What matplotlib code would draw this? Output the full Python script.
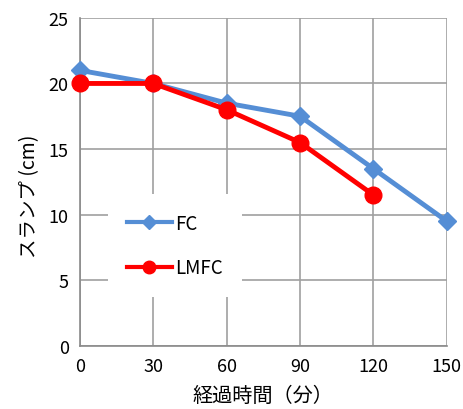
import matplotlib
matplotlib.use('Agg')
import matplotlib.pyplot as plt

plt.rcParams['font.family'] = ['Noto Sans CJK JP', 'DejaVu Sans']

# data
minutes = [0, 30, 60, 90, 120, 150]
fc = [21, 20, 18.5, 17.5, 13.5, 9.5]
lmfc_minutes = [0, 30, 60, 90, 120]
lmfc = [20, 20, 18, 15.5, 11.5]

fig = plt.figure(figsize=(4.64, 4.10), dpi=100)
ax = fig.add_axes([0.172, 0.154, 0.791, 0.8])

ax.plot(minutes, fc, color='#558ED5', linewidth=3.5, marker='D',
        markersize=9, label='FC', zorder=3, clip_on=False)
ax.plot(lmfc_minutes, lmfc, color='#FF0000', linewidth=3.5, marker='o',
        markersize=12, label='LMFC', zorder=4, clip_on=False)

ax.set_xlim(0, 150)
ax.set_ylim(0, 25)
ax.set_xticks(minutes)
ax.set_yticks(range(0, 26, 5))
ax.tick_params(axis='both', length=0, labelsize=13, pad=8)
ax.grid(True, color='#a0a0a0', linewidth=1.2)
ax.set_axisbelow(True)
for s in ['top', 'right']:
    ax.spines[s].set_visible(False)
for s in ['left', 'bottom']:
    ax.spines[s].set_color('#8a8a8a')
    ax.spines[s].set_linewidth(1.2)

ax.set_xlabel('経過時間（分）', fontsize=14.5, labelpad=7)
ax.set_ylabel('スランプ (cm)', fontsize=14, labelpad=6)
ax.yaxis.label.set_y(0.46)

leg = ax.legend(loc='upper left', bbox_to_anchor=(108 / 464, 1 - 195 / 410),
                bbox_transform=fig.transFigure, borderaxespad=0,
                fontsize=13.5, frameon=True, fancybox=False, handlelength=2.4,
                labelspacing=1.25, handletextpad=0.2, borderpad=1.0,
                markerscale=0.75)
leg.get_frame().set_facecolor('white')
leg.get_frame().set_edgecolor('none')
leg.get_frame().set_alpha(1)
for h in leg.legend_handles:
    h.set_linewidth(3)

fig.savefig('out.png', dpi=100)
